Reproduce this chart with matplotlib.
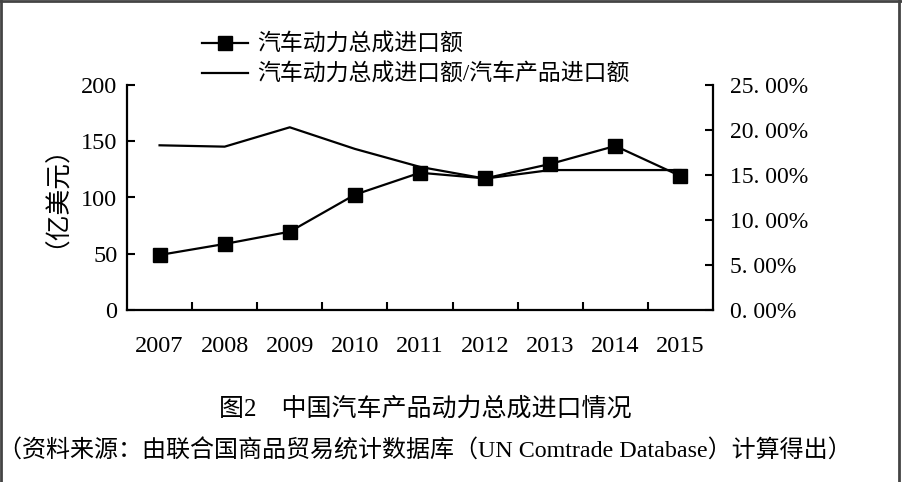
import matplotlib
matplotlib.use("Agg")
import matplotlib.pyplot as plt
from matplotlib.lines import Line2D

plt.rcParams['font.family'] = ['Liberation Serif', 'Noto Sans CJK SC']

years = ['2007', '2008', '2009', '2010', '2011', '2012', '2013', '2014', '2015']
# 汽车动力总成进口额 (亿美元)
import_value = [48.9, 58.7, 69.6, 102.5, 122.0, 117.0, 129.8, 145.8, 119.1]
# 汽车动力总成进口额/汽车产品进口额 (%)
import_share = [18.3, 18.15, 20.3, 17.9, 15.9, 14.6, 15.55, 15.55, 15.55]

label_value = '汽车动力总成进口额'
label_share = '汽车动力总成进口额/汽车产品进口额'
left_ticks = [0, 50, 100, 150, 200]
right_ticks = [0, 5, 10, 15, 20, 25]

W, H = 902, 482
fig = plt.figure(figsize=(W / 100, H / 100), dpi=100)
ax = fig.add_axes([127 / W, 1 - 310 / H, (713 - 127) / W, 225 / H])
ax2 = ax.twinx()

pos = [i + 0.5 for i in range(len(years))]

l2, = ax2.plot(pos, import_share, color='black', lw=1.6)
l1, = ax.plot(pos, import_value, color='black', lw=1.6, marker='s',
              markersize=9.5)
ax.set_zorder(ax2.get_zorder() + 1)
ax.patch.set_visible(False)

ax.set_xlim(0, len(years))
ax.set_ylim(0, 200)
ax2.set_ylim(0, 25)

ax.set_xticks(range(1, len(years)))
ax.set_xticklabels([])
ax.set_xticks(pos, minor=True)
ax.set_xticklabels(years, minor=True)
ax.tick_params(axis='x', which='minor', length=0, pad=19, labelsize=17.5)
ax.tick_params(axis='x', which='major', direction='in', length=6, width=1.5)

ax.set_yticks(left_ticks)
ax.tick_params(axis='y', direction='in', length=6, width=1.5, pad=7,
               labelsize=17.5)

ax2.set_yticks(right_ticks)
ax2.set_yticklabels(['%d. %02d%%' % (v, 0) for v in right_ticks])
ax2.tick_params(axis='y', direction='in', length=6, width=1.5, pad=12,
                labelsize=17)

for a in (ax, ax2):
    a.spines['top'].set_visible(False)
    for s in a.spines.values():
        s.set_linewidth(1.6)
ax.spines['right'].set_visible(False)
ax2.spines['left'].set_visible(False)
ax2.spines['bottom'].set_visible(False)

fig.text(56 / W, 1 - 184 / H, '（亿美元）', rotation=90, ha='right',
         va='center', fontsize=18.5)

fig.legend([l1, l2], [label_value, label_share], loc='upper left',
           bbox_to_anchor=(202 / W, 1 - 34 / H), frameon=False, borderpad=0,
           borderaxespad=0, handlelength=2.0, handletextpad=0.4,
           labelspacing=0.35, fontsize=16.5)

fig.text(425 / W, 1 - 409 / H, '图2　中国汽车产品动力总成进口情况',
         ha='center', va='center', fontsize=18)
fig.text(425 / W, 1 - 451 / H,
         '（资料来源：由联合国商品贸易统计数据库（UN Comtrade Database）计算得出）',
         ha='center', va='center', fontsize=17.3)

# frame around the picture
for xs, ys in [([0.001, 0.001], [0, 1]), ([0, 1], [0.998, 0.998]),
               ([899 / W, 899 / W], [0, 1])]:
    fig.add_artist(Line2D(xs, ys, color='#444444', lw=2, transform=fig.transFigure))

fig.savefig('out.png', dpi=100)
